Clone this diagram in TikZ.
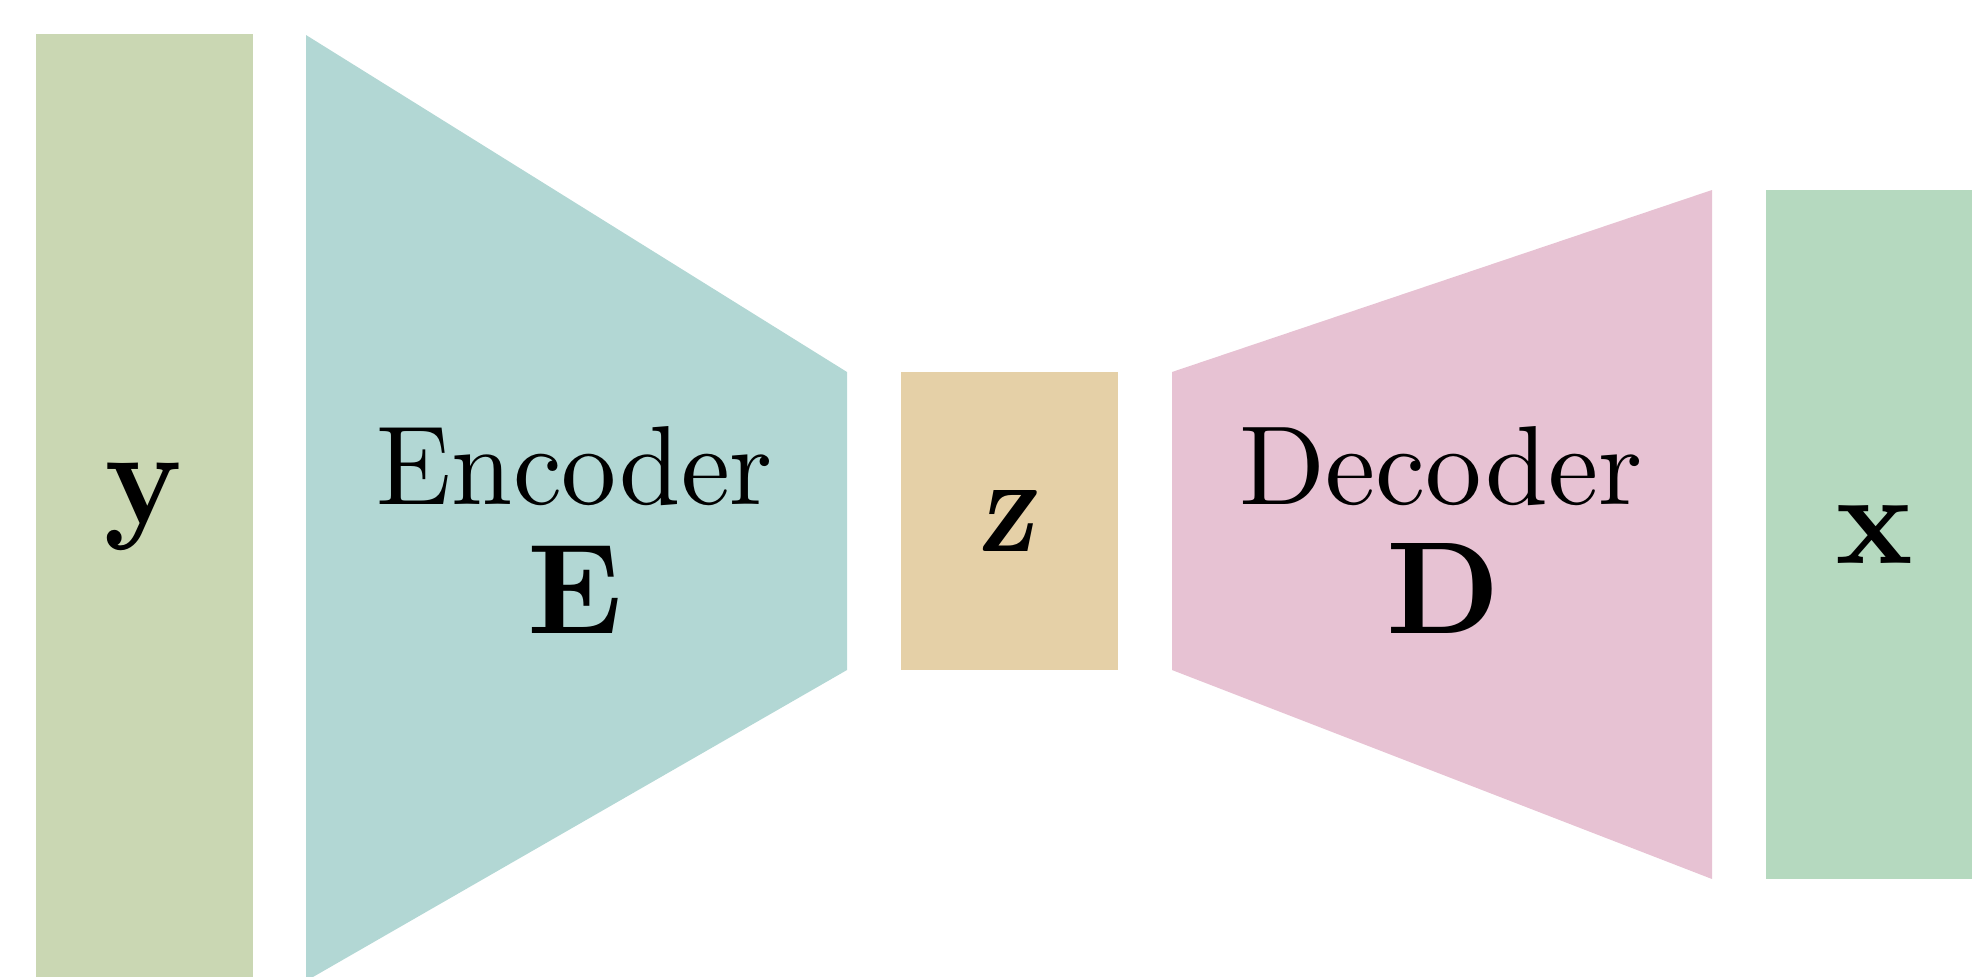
\documentclass[tikz,border=0pt]{standalone}
\usepackage{amsmath}
\usepackage{graphicx}
\definecolor{ycol}{HTML}{CAD7B3}
\definecolor{enccol}{HTML}{B2D7D4}
\definecolor{zcol}{HTML}{E5D0A7}
\definecolor{deccol}{HTML}{E7C2D3}
\definecolor{xcol}{HTML}{B5D9BF}
\begin{document}
\begin{tikzpicture}[x=0.25pt,y=-0.25pt,
  lbl/.style={inner sep=0pt, outer sep=0pt, text=black}]
\useasboundingbox (0,0) rectangle (1972,976);
\clip (0,0) rectangle (1972,976);
% shapes
\fill[ycol] (36,34) rectangle (253,1000);
\fill[enccol] (306,35) -- (847,372) -- (847,670) -- (306,981) -- cycle;
\fill[zcol] (901,372) rectangle (1118,670);
\fill[deccol] (1172,372) -- (1712,190) -- (1712,879) -- (1172,670) -- cycle;
\fill[xcol] (1766,190) rectangle (1990,879);
% labels
\node[lbl] (ylab) at (145,506.5) {\resizebox*{20pt}{21.75pt}{$\mathbf{y}$}};
\node[lbl, anchor=base] (enc) at (575,504) {\resizebox{99pt}{19.5pt}{Encoder}};
\node[lbl] (E) at (575,589) {\resizebox{23.7pt}{22pt}{$\mathbf{E}$}};
\node[lbl] (zlab) at (1008,520.5) {\resizebox{14.5pt}{15.25pt}{\textbf{\textsl{z}}}};
\node[lbl, anchor=base] (dec) at (1441,504) {\resizebox{100.75pt}{19.5pt}{Decoder}};
\node[lbl] (D) at (1443,588) {\resizebox{28.5pt}{22.5pt}{$\mathbf{D}$}};
\node[lbl] (xlab) at (1874,534) {\resizebox{19.5pt}{14.5pt}{$\mathbf{x}$}};
\end{tikzpicture}
\end{document}
